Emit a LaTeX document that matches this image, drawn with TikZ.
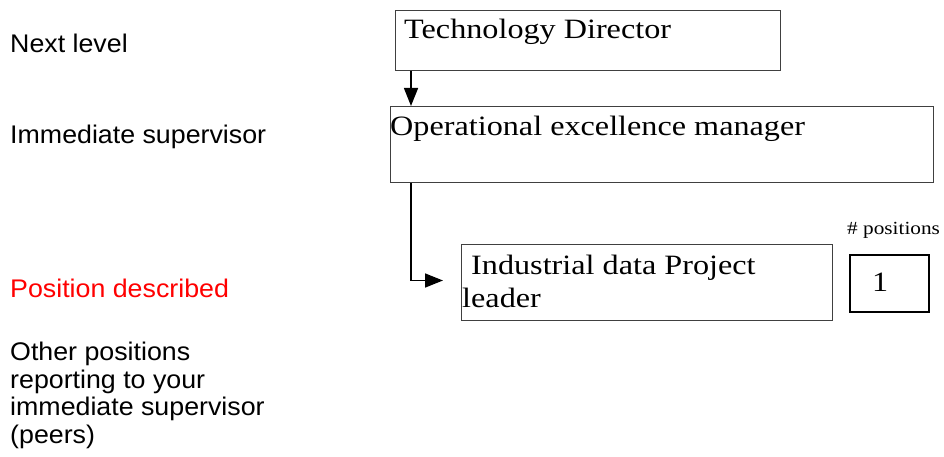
\documentclass[tikz,border=0pt]{standalone}
\usepackage{fontspec}
\setmainfont{Liberation Serif}[FakeStretch=1.15]
\newfontfamily\lsans{Liberation Sans}[FakeStretch=1.05]
\usetikzlibrary{arrows.meta}
\definecolor{pred}{RGB}{255,0,0}
\begin{document}
\begin{tikzpicture}[x=1pt,y=-1pt,
  boxn/.style={draw=black!75,line width=1pt,inner sep=0pt,anchor=north west},
  cntbox/.style={draw=black,line width=2pt,inner sep=0pt,anchor=north west},
  serift/.style={anchor=base west,inner sep=0pt,font=\fontsize{28}{31}\selectfont},
  sanst/.style={anchor=base west,inner sep=0pt,font=\lsans\fontsize{25.5}{28}\selectfont},
  arr/.style={line width=1.5pt,-{Triangle[width=14pt,length=18pt]}}]
\useasboundingbox (0,0) rectangle (944,457);
% left labels
\node[sanst] (l1) at (10,53) {Next level};
\node[sanst] (l2) at (10,144) {Immediate supervisor};
\node[sanst,text=pred] (l3) at (10,297) {Position described};
\node[sanst] (l4a) at (10,360) {Other positions};
\node[sanst] (l4b) at (10,388) {reporting to your};
\node[sanst] (l4c) at (10,415) {immediate supervisor};
\node[sanst] (l4d) at (10,443) {(peers)};
% boxes
\node[boxn,minimum width=385pt,minimum height=60pt] (td) at (395,10) {};
\node[boxn,minimum width=543pt,minimum height=76pt] (oem) at (390,106) {};
\node[boxn,minimum width=371pt,minimum height=76pt] (idpl) at (461,244) {};
\node[cntbox,minimum width=79pt,minimum height=57pt] (cnt) at (849,254) {};
% box texts
\node[serift] (tdt) at (404,39) {Technology Director};
\node[serift] (oemt) at (390,136) {Operational excellence manager};
\node[serift] (idt1) at (471,274) {Industrial data Project};
\node[serift] (idt2) at (462,307) {leader};
\node[serift] (cntt) at (872,291) {1};
\node[anchor=base west,inner sep=0pt,font=\fontsize{18.5}{21}\selectfont] (posl) at (847,234) {\# positions};
% connectors
\draw[arr] ([xshift=16pt]td.south west) -- ([xshift=21pt]oem.north west);
\draw[arr] ([xshift=21pt]oem.south west) |- ([xshift=-18pt,yshift=2pt]idpl.west);
\end{tikzpicture}
\end{document}
